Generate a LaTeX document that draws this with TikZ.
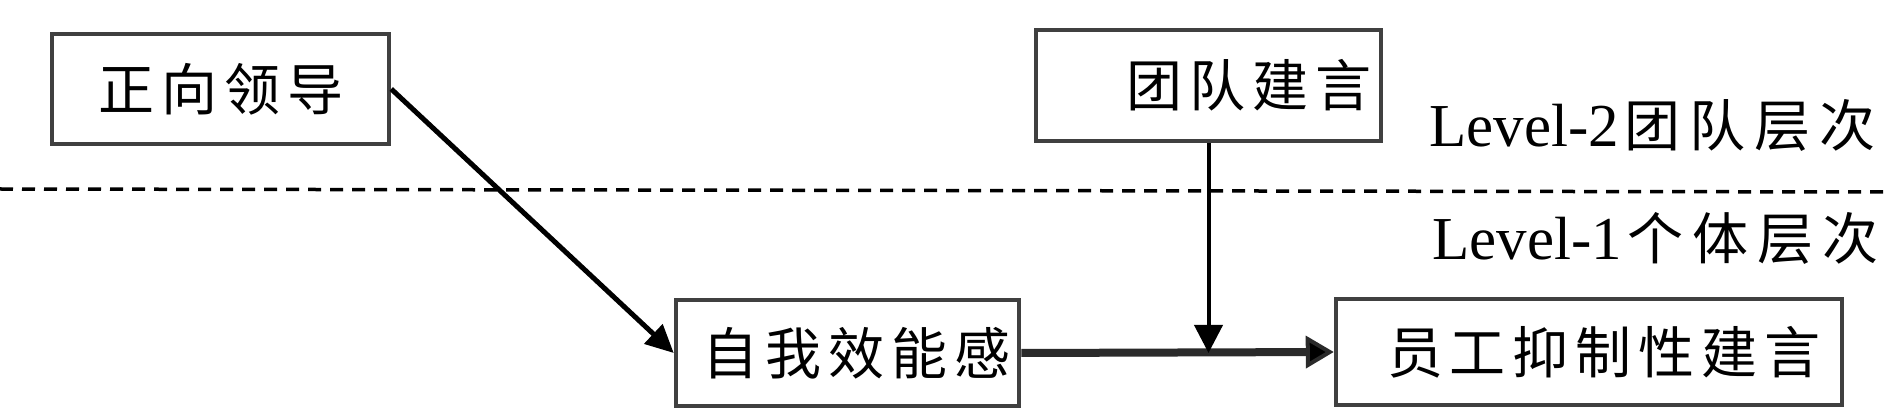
\documentclass[tikz,border=0pt]{standalone}
\usepackage{fontspec}
\setmainfont{Liberation Serif}
\newfontfamily\cjk{Noto Sans CJK SC}
\usetikzlibrary{arrows.meta}
\newcommand\cg{\hspace{7pt}}
\newcommand\lvgap{\hspace{9pt}}
\definecolor{boxgray}{HTML}{404040}
\definecolor{arrgray}{HTML}{2A2A2A}
\begin{document}
\begin{tikzpicture}[x=1pt,y=-1pt,
  box/.style={draw=boxgray, line width=4.5pt, inner ysep=0pt,
    font=\cjk\fontsize{56}{56}\selectfont},
  conn/.style={line width=5pt, -{Triangle[length=28pt,width=26pt]}},
  lvl/.style={anchor=base west, inner sep=0pt, font=\fontsize{61}{61}\selectfont}]
\useasboundingbox (0,0) rectangle (1886,411);
\draw[line width=3.5pt, dash pattern=on 13pt off 9pt] (0,189) -- (1886,192);
\node[box, minimum width=337pt, minimum height=110pt] (lead) at (220.5,89) {正\cg 向\cg 领\cg 导};
\node[box, minimum width=345pt, minimum height=111pt, text width=325pt, inner xsep=10pt, align=right] (team) at (1208.5,85.5) {团\cg 队\cg 建\cg 言};
\node[box, minimum width=343pt, minimum height=106pt, text width=325pt, inner xsep=9pt, align=right] (se) at (847.5,353) {自\cg 我\cg 效\cg 能\cg 感};
\node[box, minimum width=506pt, minimum height=106pt, text width=464pt, inner xsep=21pt, align=right] (sv) at (1589,352) {员\cg 工\cg 抑\cg 制\cg 性\cg 建\cg 言};
\node[lvl] (l2) at (1429,147) {Level-2\hspace{6pt}{\cjk\fontsize{56}{56}\selectfont 团\lvgap 队\lvgap 层\lvgap 次}};
\node[lvl] (l1) at (1432,260) {Level-1\hspace{6pt}{\cjk\fontsize{56}{56}\selectfont 个\lvgap 体\lvgap 层\lvgap 次}};
\draw[conn] (lead.east) -- (se.west);
\draw[arrgray, line width=8pt, -{Triangle[length=28pt,width=32pt,line width=4pt,fill=black]}] (se.east) -- (sv.west);
\coordinate (m) at (team.south |- se.east);
\draw[line width=4pt, -{Triangle[length=28pt,width=28pt]}] (team.south) -- (m);
\end{tikzpicture}
\end{document}
